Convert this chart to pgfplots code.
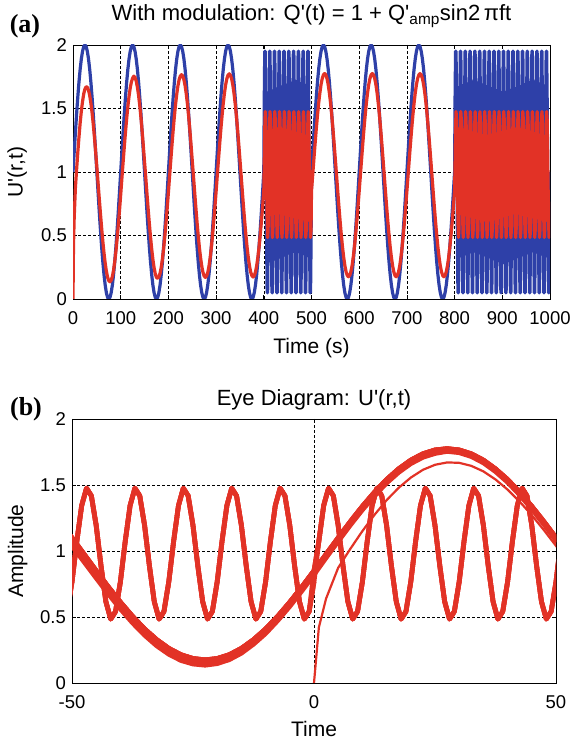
\documentclass[border=0pt]{standalone}
\usepackage{fontspec}
\setmainfont{Liberation Sans}[Ligatures=TeXOff]
\newfontfamily\serifb{Liberation Serif}[Ligatures=TeXOff]
\usepackage{pgfplots}
\pgfplotsset{compat=1.18}
\usepackage{pgfplotstable}
\definecolor{mblue}{RGB}{46,64,168}
\definecolor{mred}{RGB}{226,50,38}

\pgfplotstableread[row sep=\\]{
t b r\\
0 1 0\\ 1 1.063 0.42\\ 2.5 1.156 0.64\\ 5 1.309 0.873\\ 7.5 1.454 1.016\\ 10 1.588 1.151\\ 12.5 1.707 1.274\\ 15 1.809 1.385\\ 17.5 1.891 1.479\\ 20 1.951 1.556\\
22.5 1.988 1.615\\ 25 2 1.653\\ 27.5 1.988 1.671\\ 30 1.951 1.668\\ 32.5 1.891 1.645\\ 35 1.809 1.603\\ 37.5 1.707 1.542\\ 40 1.588 1.465\\ 42.5 1.454 1.374\\ 45 1.309 1.271\\
47.5 1.156 1.158\\ 50 1 1.039\\ 52.5 0.844 0.917\\ 55 0.691 0.795\\ 57.5 0.546 0.675\\ 60 0.412 0.561\\ 62.5 0.293 0.456\\ 65 0.191 0.362\\ 67.5 0.109 0.282\\ 70 0.049 0.218\\
72.5 0.012 0.171\\ 75 0 0.144\\ 77.5 0.012 0.135\\ 80 0.049 0.147\\ 82.5 0.109 0.177\\ 85 0.191 0.226\\ 87.5 0.293 0.294\\ 90 0.412 0.375\\ 92.5 0.546 0.473\\ 95 0.691 0.581\\ 97.5 0.844 0.698\\ 100 1 0.821\\
102.5 1.156 0.949\\ 105 1.309 1.074\\ 107.5 1.454 1.196\\ 110 1.588 1.312\\ 112.5 1.707 1.419\\ 115 1.809 1.515\\ 117.5 1.891 1.596\\ 120 1.951 1.662\\ 122.5 1.988 1.710\\ 125 2 1.739\\
127.5 1.988 1.755\\ 130 1.951 1.745\\ 132.5 1.891 1.716\\ 135 1.809 1.668\\ 137.5 1.707 1.602\\ 140 1.588 1.521\\ 142.5 1.454 1.425\\ 145 1.309 1.318\\ 147.5 1.156 1.202\\ 150 1 1.080\\
152.5 0.844 0.959\\ 155 0.691 0.834\\ 157.5 0.546 0.712\\ 160 0.412 0.596\\ 162.5 0.293 0.489\\ 165 0.191 0.393\\ 167.5 0.109 0.312\\ 170 0.049 0.246\\ 172.5 0.012 0.198\\ 175 0 0.169\\
177.5 0.012 0.163\\ 180 0.049 0.173\\ 182.5 0.109 0.202\\ 185 0.191 0.250\\ 187.5 0.293 0.316\\ 190 0.412 0.397\\ 192.5 0.546 0.493\\ 195 0.691 0.600\\ 197.5 0.844 0.716\\ 200 1 0.838\\
202.5 1.156 0.966\\ 205 1.309 1.091\\ 207.5 1.454 1.213\\ 210 1.588 1.329\\ 212.5 1.707 1.436\\ 215 1.809 1.532\\ 217.5 1.891 1.613\\ 220 1.951 1.679\\ 222.5 1.988 1.727\\ 225 2 1.756\\
227.5 1.988 1.766\\ 230 1.951 1.756\\ 232.5 1.891 1.727\\ 235 1.809 1.679\\ 237.5 1.707 1.613\\ 240 1.588 1.532\\ 242.5 1.454 1.436\\ 245 1.309 1.329\\ 247.5 1.156 1.213\\ 250 1 1.091\\
252.5 0.844 0.970\\ 255 0.691 0.845\\ 257.5 0.546 0.723\\ 260 0.412 0.607\\ 262.5 0.293 0.500\\ 265 0.191 0.404\\ 267.5 0.109 0.323\\ 270 0.049 0.257\\ 272.5 0.012 0.209\\ 275 0 0.180\\
277.5 0.012 0.170\\ 280 0.049 0.180\\ 282.5 0.109 0.209\\ 285 0.191 0.257\\ 287.5 0.293 0.323\\ 290 0.412 0.404\\ 292.5 0.546 0.500\\ 295 0.691 0.607\\ 297.5 0.844 0.723\\ 300 1 0.845\\
302.5 1.156 0.973\\ 305 1.309 1.098\\ 307.5 1.454 1.220\\ 310 1.588 1.336\\ 312.5 1.707 1.443\\ 315 1.809 1.539\\ 317.5 1.891 1.620\\ 320 1.951 1.686\\ 322.5 1.988 1.734\\ 325 2 1.763\\
327.5 1.988 1.773\\ 330 1.951 1.763\\ 332.5 1.891 1.734\\ 335 1.809 1.686\\ 337.5 1.707 1.620\\ 340 1.588 1.539\\ 342.5 1.454 1.443\\ 345 1.309 1.336\\ 347.5 1.156 1.220\\ 350 1 1.098\\
352.5 0.844 0.973\\ 355 0.691 0.848\\ 357.5 0.546 0.726\\ 360 0.412 0.610\\ 362.5 0.293 0.503\\ 365 0.191 0.407\\ 367.5 0.109 0.326\\ 370 0.049 0.260\\ 372.5 0.012 0.212\\ 375 0 0.183\\
377.5 0.012 0.173\\ 380 0.049 0.183\\ 382.5 0.109 0.212\\ 385 0.191 0.260\\ 387.5 0.293 0.326\\ 390 0.412 0.407\\ 392.5 0.546 0.503\\ 395 0.691 0.610\\ 397.5 0.844 0.726\\ 400 1 0.848\\
401 1.588 1.074\\ 402 1.951 1.344\\ 403 1.951 1.476\\ 404 1.588 1.418\\ 405 1 1.193\\ 406 0.412 0.886\\ 407 0.049 0.616\\ 408 0.049 0.484\\ 409 0.412 0.542\\
410 1 0.767\\ 411 1.588 1.074\\ 412 1.951 1.344\\ 413 1.951 1.476\\ 414 1.588 1.418\\ 415 1 1.193\\ 416 0.412 0.886\\ 417 0.049 0.616\\ 418 0.049 0.484\\ 419 0.412 0.542\\
420 1 0.767\\ 421 1.588 1.074\\ 422 1.951 1.344\\ 423 1.951 1.476\\ 424 1.588 1.418\\ 425 1 1.193\\ 426 0.412 0.886\\ 427 0.049 0.616\\ 428 0.049 0.484\\ 429 0.412 0.542\\
430 1 0.767\\ 431 1.588 1.074\\ 432 1.951 1.344\\ 433 1.951 1.476\\ 434 1.588 1.418\\ 435 1 1.193\\ 436 0.412 0.886\\ 437 0.049 0.616\\ 438 0.049 0.484\\ 439 0.412 0.542\\
440 1 0.767\\ 441 1.588 1.074\\ 442 1.951 1.344\\ 443 1.951 1.476\\ 444 1.588 1.418\\ 445 1 1.193\\ 446 0.412 0.886\\ 447 0.049 0.616\\ 448 0.049 0.484\\ 449 0.412 0.542\\
450 1 0.767\\ 451 1.588 1.074\\ 452 1.951 1.344\\ 453 1.951 1.476\\ 454 1.588 1.418\\ 455 1 1.193\\ 456 0.412 0.886\\ 457 0.049 0.616\\ 458 0.049 0.484\\ 459 0.412 0.542\\
460 1 0.767\\ 461 1.588 1.074\\ 462 1.951 1.344\\ 463 1.951 1.476\\ 464 1.588 1.418\\ 465 1 1.193\\ 466 0.412 0.886\\ 467 0.049 0.616\\ 468 0.049 0.484\\ 469 0.412 0.542\\
470 1 0.767\\ 471 1.588 1.074\\ 472 1.951 1.344\\ 473 1.951 1.476\\ 474 1.588 1.418\\ 475 1 1.193\\ 476 0.412 0.886\\ 477 0.049 0.616\\ 478 0.049 0.484\\ 479 0.412 0.542\\
480 1 0.767\\ 481 1.588 1.074\\ 482 1.951 1.344\\ 483 1.951 1.476\\ 484 1.588 1.418\\ 485 1 1.193\\ 486 0.412 0.886\\ 487 0.049 0.616\\ 488 0.049 0.484\\ 489 0.412 0.542\\
490 1 0.767\\ 491 1.588 1.074\\ 492 1.951 1.344\\ 493 1.951 1.476\\ 494 1.588 1.418\\ 495 1 1.193\\ 496 0.412 0.886\\ 497 0.049 0.616\\ 498 0.049 0.484\\ 499 0.412 0.542\\
500 1 0.850\\
502.5 1.156 0.975\\ 505 1.309 1.100\\ 507.5 1.454 1.222\\ 510 1.588 1.338\\ 512.5 1.707 1.445\\ 515 1.809 1.541\\ 517.5 1.891 1.622\\ 520 1.951 1.688\\ 522.5 1.988 1.736\\ 525 2 1.765\\
527.5 1.988 1.775\\ 530 1.951 1.765\\ 532.5 1.891 1.736\\ 535 1.809 1.688\\ 537.5 1.707 1.622\\ 540 1.588 1.541\\ 542.5 1.454 1.445\\ 545 1.309 1.338\\ 547.5 1.156 1.222\\ 550 1 1.100\\
552.5 0.844 0.975\\ 555 0.691 0.850\\ 557.5 0.546 0.728\\ 560 0.412 0.612\\ 562.5 0.293 0.505\\ 565 0.191 0.409\\ 567.5 0.109 0.328\\ 570 0.049 0.262\\ 572.5 0.012 0.214\\ 575 0 0.185\\
577.5 0.012 0.175\\ 580 0.049 0.185\\ 582.5 0.109 0.214\\ 585 0.191 0.262\\ 587.5 0.293 0.328\\ 590 0.412 0.409\\ 592.5 0.546 0.505\\ 595 0.691 0.612\\ 597.5 0.844 0.728\\ 600 1 0.850\\
602.5 1.156 0.975\\ 605 1.309 1.100\\ 607.5 1.454 1.222\\ 610 1.588 1.338\\ 612.5 1.707 1.445\\ 615 1.809 1.541\\ 617.5 1.891 1.622\\ 620 1.951 1.688\\ 622.5 1.988 1.736\\ 625 2 1.765\\
627.5 1.988 1.775\\ 630 1.951 1.765\\ 632.5 1.891 1.736\\ 635 1.809 1.688\\ 637.5 1.707 1.622\\ 640 1.588 1.541\\ 642.5 1.454 1.445\\ 645 1.309 1.338\\ 647.5 1.156 1.222\\ 650 1 1.100\\
652.5 0.844 0.975\\ 655 0.691 0.850\\ 657.5 0.546 0.728\\ 660 0.412 0.612\\ 662.5 0.293 0.505\\ 665 0.191 0.409\\ 667.5 0.109 0.328\\ 670 0.049 0.262\\ 672.5 0.012 0.214\\ 675 0 0.185\\
677.5 0.012 0.175\\ 680 0.049 0.185\\ 682.5 0.109 0.214\\ 685 0.191 0.262\\ 687.5 0.293 0.328\\ 690 0.412 0.409\\ 692.5 0.546 0.505\\ 695 0.691 0.612\\ 697.5 0.844 0.728\\ 700 1 0.850\\
702.5 1.156 0.975\\ 705 1.309 1.100\\ 707.5 1.454 1.222\\ 710 1.588 1.338\\ 712.5 1.707 1.445\\ 715 1.809 1.541\\ 717.5 1.891 1.622\\ 720 1.951 1.688\\ 722.5 1.988 1.736\\ 725 2 1.765\\
727.5 1.988 1.775\\ 730 1.951 1.765\\ 732.5 1.891 1.736\\ 735 1.809 1.688\\ 737.5 1.707 1.622\\ 740 1.588 1.541\\ 742.5 1.454 1.445\\ 745 1.309 1.338\\ 747.5 1.156 1.222\\ 750 1 1.100\\
752.5 0.844 0.975\\ 755 0.691 0.850\\ 757.5 0.546 0.728\\ 760 0.412 0.612\\ 762.5 0.293 0.505\\ 765 0.191 0.409\\ 767.5 0.109 0.328\\ 770 0.049 0.262\\ 772.5 0.012 0.214\\ 775 0 0.185\\
777.5 0.012 0.175\\ 780 0.049 0.185\\ 782.5 0.109 0.214\\ 785 0.191 0.262\\ 787.5 0.293 0.328\\ 790 0.412 0.409\\ 792.5 0.546 0.505\\ 795 0.691 0.612\\ 797.5 0.844 0.728\\ 800 1 0.850\\
801 1.588 1.074\\ 802 1.951 1.344\\ 803 1.951 1.476\\ 804 1.588 1.418\\ 805 1 1.193\\ 806 0.412 0.886\\ 807 0.049 0.616\\ 808 0.049 0.484\\ 809 0.412 0.542\\
810 1 0.767\\ 811 1.588 1.074\\ 812 1.951 1.344\\ 813 1.951 1.476\\ 814 1.588 1.418\\ 815 1 1.193\\ 816 0.412 0.886\\ 817 0.049 0.616\\ 818 0.049 0.484\\ 819 0.412 0.542\\
820 1 0.767\\ 821 1.588 1.074\\ 822 1.951 1.344\\ 823 1.951 1.476\\ 824 1.588 1.418\\ 825 1 1.193\\ 826 0.412 0.886\\ 827 0.049 0.616\\ 828 0.049 0.484\\ 829 0.412 0.542\\
830 1 0.767\\ 831 1.588 1.074\\ 832 1.951 1.344\\ 833 1.951 1.476\\ 834 1.588 1.418\\ 835 1 1.193\\ 836 0.412 0.886\\ 837 0.049 0.616\\ 838 0.049 0.484\\ 839 0.412 0.542\\
840 1 0.767\\ 841 1.588 1.074\\ 842 1.951 1.344\\ 843 1.951 1.476\\ 844 1.588 1.418\\ 845 1 1.193\\ 846 0.412 0.886\\ 847 0.049 0.616\\ 848 0.049 0.484\\ 849 0.412 0.542\\
850 1 0.767\\ 851 1.588 1.074\\ 852 1.951 1.344\\ 853 1.951 1.476\\ 854 1.588 1.418\\ 855 1 1.193\\ 856 0.412 0.886\\ 857 0.049 0.616\\ 858 0.049 0.484\\ 859 0.412 0.542\\
860 1 0.767\\ 861 1.588 1.074\\ 862 1.951 1.344\\ 863 1.951 1.476\\ 864 1.588 1.418\\ 865 1 1.193\\ 866 0.412 0.886\\ 867 0.049 0.616\\ 868 0.049 0.484\\ 869 0.412 0.542\\
870 1 0.767\\ 871 1.588 1.074\\ 872 1.951 1.344\\ 873 1.951 1.476\\ 874 1.588 1.418\\ 875 1 1.193\\ 876 0.412 0.886\\ 877 0.049 0.616\\ 878 0.049 0.484\\ 879 0.412 0.542\\
880 1 0.767\\ 881 1.588 1.074\\ 882 1.951 1.344\\ 883 1.951 1.476\\ 884 1.588 1.418\\ 885 1 1.193\\ 886 0.412 0.886\\ 887 0.049 0.616\\ 888 0.049 0.484\\ 889 0.412 0.542\\
890 1 0.767\\ 891 1.588 1.074\\ 892 1.951 1.344\\ 893 1.951 1.476\\ 894 1.588 1.418\\ 895 1 1.193\\ 896 0.412 0.886\\ 897 0.049 0.616\\ 898 0.049 0.484\\ 899 0.412 0.542\\
900 1 0.767\\ 901 1.588 1.074\\ 902 1.951 1.344\\ 903 1.951 1.476\\ 904 1.588 1.418\\ 905 1 1.193\\ 906 0.412 0.886\\ 907 0.049 0.616\\ 908 0.049 0.484\\ 909 0.412 0.542\\
910 1 0.767\\ 911 1.588 1.074\\ 912 1.951 1.344\\ 913 1.951 1.476\\ 914 1.588 1.418\\ 915 1 1.193\\ 916 0.412 0.886\\ 917 0.049 0.616\\ 918 0.049 0.484\\ 919 0.412 0.542\\
920 1 0.767\\ 921 1.588 1.074\\ 922 1.951 1.344\\ 923 1.951 1.476\\ 924 1.588 1.418\\ 925 1 1.193\\ 926 0.412 0.886\\ 927 0.049 0.616\\ 928 0.049 0.484\\ 929 0.412 0.542\\
930 1 0.767\\ 931 1.588 1.074\\ 932 1.951 1.344\\ 933 1.951 1.476\\ 934 1.588 1.418\\ 935 1 1.193\\ 936 0.412 0.886\\ 937 0.049 0.616\\ 938 0.049 0.484\\ 939 0.412 0.542\\
940 1 0.767\\ 941 1.588 1.074\\ 942 1.951 1.344\\ 943 1.951 1.476\\ 944 1.588 1.418\\ 945 1 1.193\\ 946 0.412 0.886\\ 947 0.049 0.616\\ 948 0.049 0.484\\ 949 0.412 0.542\\
950 1 0.767\\ 951 1.588 1.074\\ 952 1.951 1.344\\ 953 1.951 1.476\\ 954 1.588 1.418\\ 955 1 1.193\\ 956 0.412 0.886\\ 957 0.049 0.616\\ 958 0.049 0.484\\ 959 0.412 0.542\\
960 1 0.767\\ 961 1.588 1.074\\ 962 1.951 1.344\\ 963 1.951 1.476\\ 964 1.588 1.418\\ 965 1 1.193\\ 966 0.412 0.886\\ 967 0.049 0.616\\ 968 0.049 0.484\\ 969 0.412 0.542\\
970 1 0.767\\ 971 1.588 1.074\\ 972 1.951 1.344\\ 973 1.951 1.476\\ 974 1.588 1.418\\ 975 1 1.193\\ 976 0.412 0.886\\ 977 0.049 0.616\\ 978 0.049 0.484\\ 979 0.412 0.542\\
980 1 0.767\\ 981 1.588 1.074\\ 982 1.951 1.344\\ 983 1.951 1.476\\ 984 1.588 1.418\\ 985 1 1.193\\ 986 0.412 0.886\\ 987 0.049 0.616\\ 988 0.049 0.484\\ 989 0.412 0.542\\
990 1 0.767\\ 991 1.588 1.074\\ 992 1.951 1.344\\ 993 1.951 1.476\\ 994 1.588 1.418\\ 995 1 1.193\\ 996 0.412 0.886\\ 997 0.049 0.616\\ 998 0.049 0.484\\ 999 0.412 0.542\\
1000 1 0.767\\
}\data

\pgfplotsset{
  mystyle/.style={
    scale only axis,
    anchor=south west,
    axis line style={black, line width=0.7pt},
    tick align=inside,
    major tick length=4pt,
    tick style={black, line width=0.7pt},
    grid=major,
    major grid style={black, line width=0.55pt, dash pattern=on 2.5pt off 2.5pt},
    ticklabel style={font=\fontsize{18.5}{21}\selectfont, inner sep=1pt},
    xticklabel style={yshift=-11.5pt},
    yticklabel style={xshift=-5pt},
    label style={font=\fontsize{21}{24}\selectfont},
    title style={font=\fontsize{22}{25}\selectfont},
    /pgf/number format/assume math mode=true,
    /pgf/number format/1000 sep={},
    ymin=0, ymax=2, ytick={0,0.5,1,1.5,2},
    yticklabels={0,0.5,1,1.5,2},
  }
}

\begin{document}
\begin{tikzpicture}
\useasboundingbox (0,0) rectangle (577pt,743pt);
\begin{axis}[mystyle,
  at={(73pt,444pt)}, width=477pt, height=254pt,
  xmin=0, xmax=1000, xtick={0,100,200,300,400,500,600,700,800,900,1000},
  title={With modulation: Q'(t) = 1 + Q'\textsubscript{amp}sin2\,πft},
  title style={at={(axis description cs:0.5,1.071)}, anchor=base},
  xlabel={Time (s)},
  xlabel style={at={(axis description cs:0.5,-0.213)}, anchor=base},
  ylabel={U'(r,t)},
  ylabel style={at={(axis description cs:-0.117,0.5)}, anchor=center},
]
\addplot[mblue, line width=3.2pt, line join=round] table[x=t, y=b]{\data};
\addplot[mred, line width=3.2pt, line join=round] table[x=t, y=r]{\data};
\end{axis}

\begin{axis}[mystyle,
  at={(72pt,60pt)}, width=484pt, height=264pt,
  xmin=-50, xmax=50, xtick={-50,0,50},
  title={Eye Diagram: U'(r,t)},
  title style={at={(axis description cs:0.5,1.027)}, anchor=base},
  xlabel={Time},
  xlabel style={at={(axis description cs:0.5,-0.204)}, anchor=base},
  ylabel={Amplitude},
  ylabel style={at={(axis description cs:-0.112,0.5)}, anchor=center},
]
\pgfplotsinvokeforeach{1,2,3,4,5,6,7,8,9,10}{
  \addplot[mred, line width=4.8pt, line join=round, restrict x to domain=-60:60] table[x expr=\thisrow{t}-100*#1, y=r]{\data};
}
\addplot[mred, line width=2.2pt, line join=round, restrict x to domain=-60:60] table[x=t, y=r]{\data};
\end{axis}

\node[font=\serifb\bfseries\fontsize{26}{29}\selectfont] at (25pt,717pt) {(a)};
\node[font=\serifb\bfseries\fontsize{26}{29}\selectfont] at (26pt,334pt) {(b)};
\end{tikzpicture}
\end{document}
